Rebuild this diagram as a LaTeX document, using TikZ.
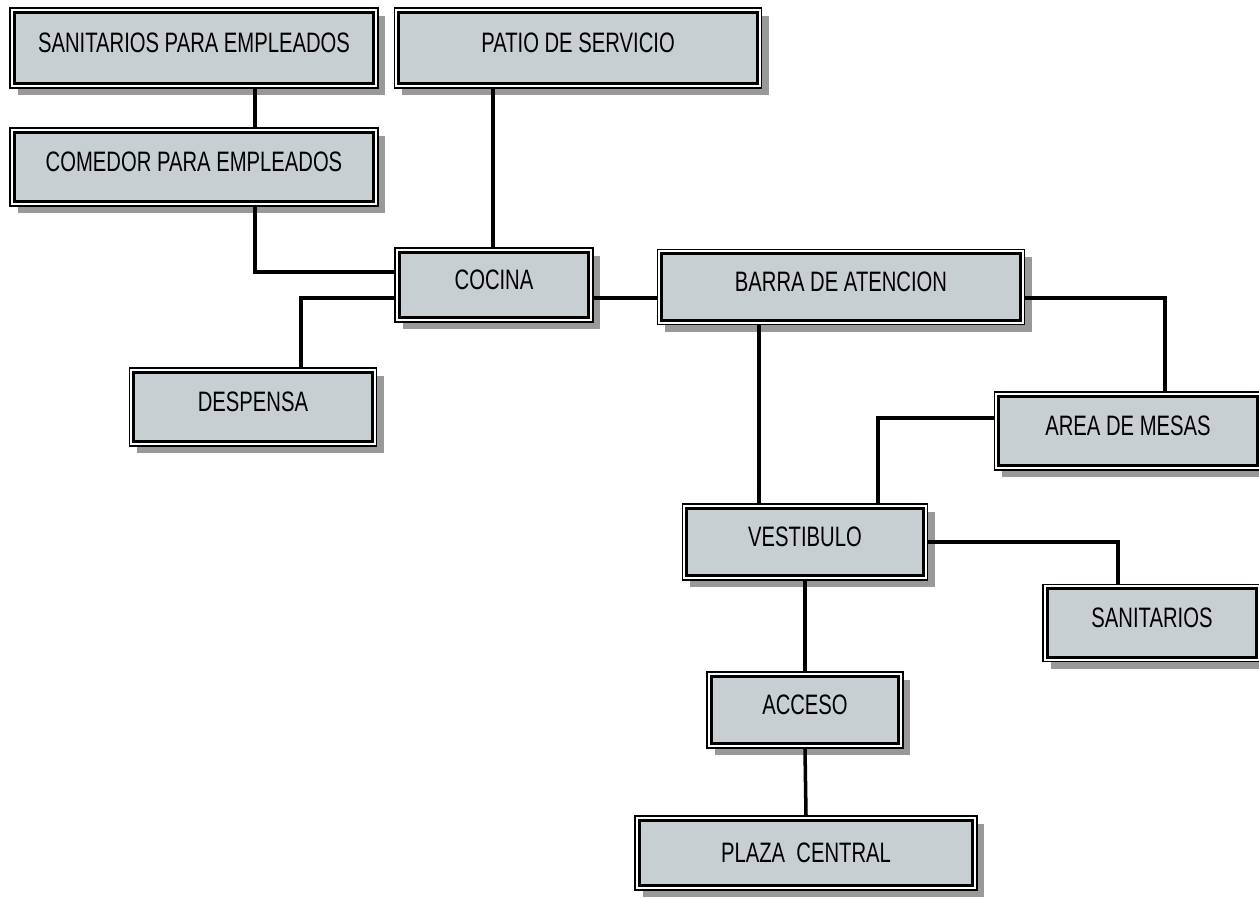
\documentclass[tikz,border=0pt]{standalone}
\usepackage{fontspec}
\newfontfamily\boxfont[FakeStretch=0.72]{Liberation Sans}
\usetikzlibrary{shadows}
\definecolor{boxgray}{RGB}{200,207,211}

\begin{document}
\begin{tikzpicture}[
    x=0.02cm, y=-0.02cm,
    box/.style={rectangle, draw, line width=1pt, fill=white, inner sep=0pt, outer sep=0.5pt,
        text depth=0.2cm, font=\boxfont\fontsize{16}{18}\selectfont,
        path picture={\draw[line width=1.8pt, fill=boxgray]
            ([shift={(2.4pt,-2.4pt)}]path picture bounding box.north west) rectangle
            ([shift={(-2.4pt,2.4pt)}]path picture bounding box.south east);},
        drop shadow={shadow xshift=0.15cm, shadow yshift=-0.15cm, fill=gray!80, opacity=1}},
    link/.style={line width=2pt}
]
    \useasboundingbox (0,0) rectangle (1259,899);

    \node[box, minimum width=7.36cm, minimum height=1.6cm] (sanemp) at (194,48) {SANITARIOS PARA EMPLEADOS};
    \node[box, minimum width=7.34cm, minimum height=1.6cm] (patio) at (578,48) {PATIO DE SERVICIO};
    \node[box, minimum width=7.36cm, minimum height=1.56cm] (comedor) at (194,167) {COMEDOR PARA EMPLEADOS};
    \node[box, minimum width=3.96cm, minimum height=1.48cm] (cocina) at (494,285) {COCINA};
    \node[box, minimum width=7.34cm, minimum height=1.5cm] (barra) at (841,287) {BARRA DE ATENCION};
    \node[box, minimum width=4.94cm, minimum height=1.56cm] (despensa) at (253,407) {DESPENSA};
    \node[box, minimum width=5.34cm, minimum height=1.56cm] (area) at (1128,431) {AREA DE MESAS};
    \node[box, minimum width=4.9cm, minimum height=1.52cm] (vestibulo) at (805,542) {VESTIBULO};
    \node[box, minimum width=4.36cm, minimum height=1.54cm] (sanitarios) at (1152,623) {SANITARIOS};
    \node[box, minimum width=3.92cm, minimum height=1.52cm] (acceso) at (805,710) {ACCESO};
    \node[box, minimum width=6.84cm, minimum height=1.48cm, text depth=0pt] (plaza) at (806,853) {PLAZA \ CENTRAL};

    \draw[link] ([xshift=1.22cm]sanemp.south) coordinate (s1) -- (s1 |- comedor.north);
    \draw[link] ([xshift=1.22cm]comedor.south) |- ([yshift=0.26cm]cocina.west);
    \draw[link] ([xshift=-1.7cm]patio.south) coordinate (p1) -- (p1 |- cocina.north);
    \draw[link] ([xshift=0.96cm]despensa.north) |- ([yshift=-0.26cm]cocina.west);
    \draw[link] ([yshift=-0.26cm]cocina.east) coordinate (c1) -- (c1 -| barra.west);
    \draw[link] ([xshift=-1.64cm]barra.south) coordinate (b1) -- (b1 |- vestibulo.north);
    \draw[link] ([yshift=-0.22cm]barra.east) -| ([xshift=0.74cm]area.north);
    \draw[link] ([yshift=0.26cm]area.west) -| ([xshift=1.46cm]vestibulo.north);
    \draw[link] (vestibulo.east) -| ([xshift=-0.68cm]sanitarios.north);
    \draw[link] (vestibulo.south) -- (acceso.north);
    \draw[link] (acceso.south) -- (plaza.north);
\end{tikzpicture}
\end{document}
